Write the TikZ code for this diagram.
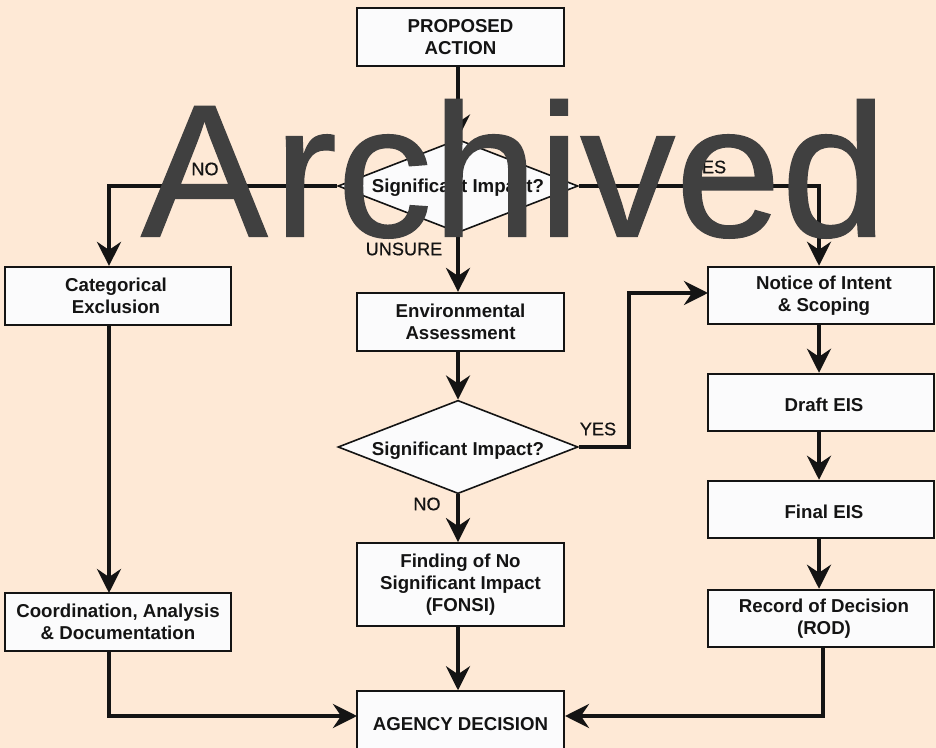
\documentclass[tikz,border=0pt]{standalone}
\usepackage{fontspec}
\setmainfont{Liberation Sans}
\newfontfamily\stampfont[FakeBold=0.7,FakeStretch=1.005]{Liberation Sans}
\newfontfamily\tagfont[FakeBold=0.6]{Liberation Sans}
\usetikzlibrary{shapes.geometric,arrows.meta}
\definecolor{pagebg}{HTML}{FEE9D6}
\definecolor{boxfill}{HTML}{FBFBFC}
\definecolor{ink}{HTML}{141414}
\definecolor{stamp}{HTML}{404040}
\newcommand{\nudgeR}{\hspace*{4.5pt}}
\newcommand{\nudgeL}{\hspace*{-3pt}}
\tikzset{
  x=0.75pt,y=-0.75pt,
  flowbox/.style={draw=ink,fill=boxfill,line width=1.6pt,align=center,font=\fontsize{14pt}{16.5pt}\selectfont\bfseries,text=ink,inner sep=0pt,minimum width=155.25pt},
  tdown/.style={execute at begin node={\rule{0pt}{\dimexpr 10.5pt+2\dimexpr #1pt\relax\relax}}},
  decide/.style={diamond,draw=ink,fill=boxfill,line width=1.2pt,aspect=2.55,inner sep=0pt,minimum width=180pt,minimum height=70pt,font=\fontsize{14pt}{16pt}\selectfont\bfseries,text=ink},
  flow/.style={draw=ink,line width=2.8pt,-{Stealth[length=18pt,width=18pt,inset=6pt]}},
  tag/.style={font=\tagfont\fontsize{13.6pt}{15pt}\selectfont,text=ink,inner sep=0pt},
}
\begin{document}
\begin{tikzpicture}
\useasboundingbox (0,0) rectangle (936,748);
\fill[pagebg] (0,0) rectangle (936,748);

\coordinate (leftdrop) at (109,186);
\coordinate (rightdrop) at (819,186);
\coordinate (catout) at (109,326);
\coordinate (coordin) at (109,593);
\coordinate (coordout) at (109,651);
\coordinate (leftcorner) at (109,716);
\coordinate (rodout) at (823,647);
\coordinate (rodcorner) at (823,716);
\coordinate (yesa) at (629,447);
\coordinate (yesb) at (629,293);
\coordinate (noticein) at (708,293);
\coordinate (agencyl) at (357,716);
\coordinate (agencyr) at (565,716);

\node[flowbox,tdown=3.5,minimum height=43.5pt] (action) at (460.5,37) {PROPOSED\\ACTION};
\node[decide,text height=13pt] (d1) at (458,186) {Significant Impact?};
\node[flowbox,tdown=0.8,minimum width=169.5pt,minimum height=43.5pt] (cat) at (118,296) {\nudgeL Categorical\\\nudgeL Exclusion};
\node[flowbox,tdown=0.8,minimum height=43.5pt] (ea) at (460.5,322) {Environmental\\Assessment};
\node[decide,text height=15pt] (d2) at (458,447) {Significant Impact?};
\node[flowbox,tdown=1.5,minimum height=62pt] (fonsi) at (460.5,584.5) {Finding of No\\Significant Impact\\(FONSI)};
\node[flowbox,tdown=0,minimum width=169.5pt,minimum height=43.5pt] (coord) at (118,622) {Coordination, Analysis\\\& Documentation};
\node[flowbox,tdown=3,minimum height=43pt] (agency) at (460.5,720) {AGENCY DECISION};
\node[flowbox,tdown=1.5,minimum width=169.5pt,minimum height=43pt] (notice) at (821,295.5) {\nudgeR Notice of Intent\\\nudgeR\& Scoping};
\node[flowbox,tdown=1.5,minimum width=169.5pt,minimum height=43pt] (draft) at (821,402.5) {\nudgeR Draft EIS};
\node[flowbox,tdown=1.5,minimum width=169.5pt,minimum height=43pt] (final) at (821,509.5) {\nudgeR Final EIS};
\node[flowbox,tdown=3.5,minimum width=169.5pt,minimum height=43pt] (rod) at (821,618.5) {\nudgeR Record of Decision\\\nudgeR (ROD)};

\draw[flow] (action.south -| d1.north) -- (d1.north);
\draw[flow] (d1.west) -- (leftdrop) -- (cat.north -| leftdrop);
\draw[flow] (d1.east) -- (rightdrop) -- (notice.north -| rightdrop);
\draw[flow] (d1.south) -- (ea.north -| d1.south);
\draw[flow] (catout) -- (coordin);
\draw[flow] (ea.south -| d2.north) -- (d2.north);
\draw[flow] (d2.east) -- (yesa) -- (yesb) -- (noticein);
\draw[flow] (d2.south) -- (fonsi.north -| d2.south);
\draw[flow] (fonsi.south -| d2.south) -- (agency.north -| d2.south);
\draw[flow] (notice.south -| rightdrop) -- (draft.north -| rightdrop);
\draw[flow] (draft.south -| rightdrop) -- (final.north -| rightdrop);
\draw[flow] (final.south -| rightdrop) -- (rod.north -| rightdrop);
\draw[flow] (coordout) -- (leftcorner) -- (agencyl);
\draw[flow] (rodout) -- (rodcorner) -- (agencyr);

\node[tag] (lno) at (205,169) {NO};
\node[tag] (lyes) at (708,167) {YES};
\node[tag] (lunsure) at (404,249) {UNSURE};
\node[tag] (lyes2) at (598,429) {YES};
\node[tag] (lno2) at (427,504) {NO};

\node[inner sep=0pt,anchor=base,text=stamp,font=\stampfont\fontsize{142pt}{143pt}\selectfont] (stampmark) at (514,236.5) {A\kern4.5pt rchived};
\end{tikzpicture}
\end{document}
